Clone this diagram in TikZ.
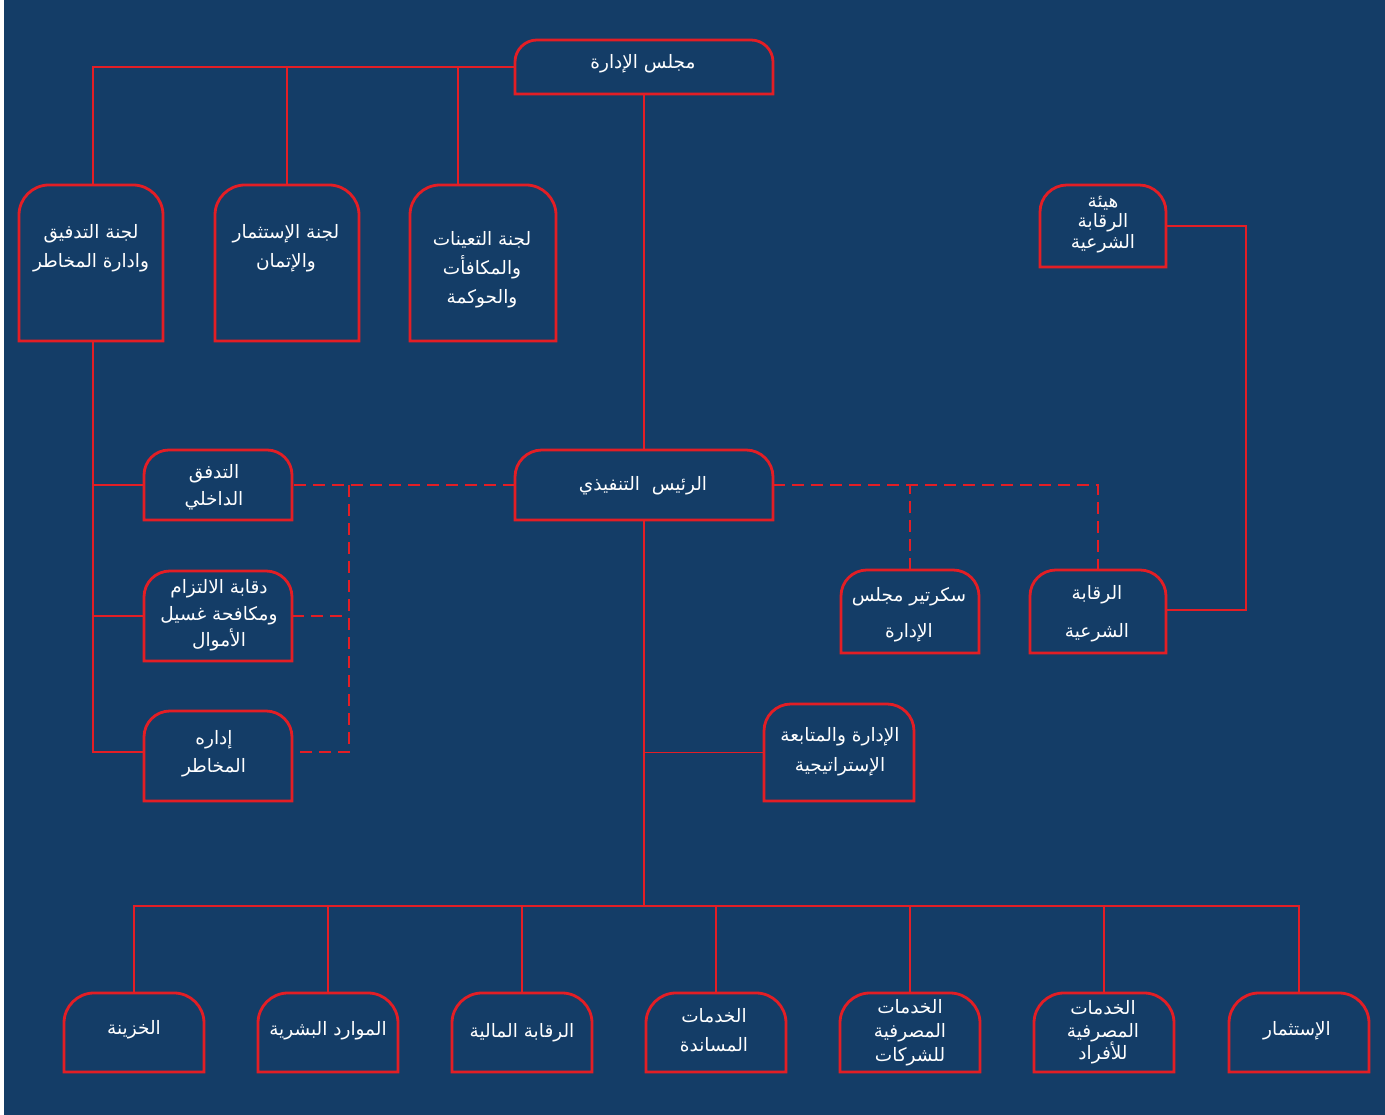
\documentclass[tikz,border=0pt]{standalone}
\usepackage{fontspec}
\TeXXeTstate=1
\newfontfamily\arabicfont[Script=Arabic]{DejaVu Sans}
\newcommand\rl[1]{\beginR #1\endR}
\definecolor{bg}{HTML}{143D67}
\definecolor{rd}{HTML}{E31E25}
\newcommand\topbox[2]{\draw[boxline] (#1.south west) -- ([yshift=-#2]#1.north west) arc[start angle=180,end angle=90,radius=#2] -- ([xshift=-#2]#1.north east) arc[start angle=90,end angle=0,radius=#2] -- (#1.south east) -- cycle;}
\tikzset{
  bx/.style={draw=none, inner sep=0pt, outer sep=0pt, rectangle},
  boxline/.style={draw=rd, line width=2.8pt, fill=bg},
  conn/.style={draw=rd, line width=1.5pt},
  dsh/.style={draw=rd, line width=1.5pt, dash pattern=on 12pt off 7pt},
  txt/.style={text=white, align=center, inner sep=0pt, font=\arabicfont\fontsize{18.5}{#1}\selectfont},
  txt/.default=29
}
\begin{document}
\begin{tikzpicture}[x=1pt,y=1pt]
\useasboundingbox (0,0) rectangle (1385,1115);
\fill[white] (0,0) rectangle (1385,1115);
\fill[bg] (4,0) rectangle (1385,1115);
% box nodes
\node[bx, minimum width=258pt, minimum height=54pt] (board) at (644,1048) {};
\node[bx, minimum width=144pt, minimum height=156pt] (c1) at (91,852) {};
\node[bx, minimum width=144pt, minimum height=156pt] (c2) at (287,852) {};
\node[bx, minimum width=146pt, minimum height=156pt] (c3) at (483,852) {};
\node[bx, minimum width=126pt, minimum height=82pt] (shb) at (1103,889) {};
\node[bx, minimum width=258pt, minimum height=70pt] (ceo) at (644,630) {};
\node[bx, minimum width=148pt, minimum height=70pt] (ia) at (218,630) {};
\node[bx, minimum width=148pt, minimum height=90pt] (aml) at (218,499) {};
\node[bx, minimum width=148pt, minimum height=90pt] (risk) at (218,359) {};
\node[bx, minimum width=138pt, minimum height=83pt] (sec) at (910,503.5) {};
\node[bx, minimum width=136pt, minimum height=83pt] (sh) at (1098,503.5) {};
\node[bx, minimum width=150pt, minimum height=97pt] (strat) at (839,362.5) {};
\foreach \n/\x in {b1/134,b2/328,b3/522,b4/716,b5/910,b6/1104,b7/1299}{
  \node[bx, minimum width=140pt, minimum height=79pt] (\n) at (\x,82.5) {};
}
% connectors
\coordinate (c1top) at ([xshift=2pt]c1.north);
\draw[conn] (board.west) -| (c1top);
\draw[conn] (c2.north) -- (c2.north |- board.west);
\coordinate (c3top) at ([xshift=-25pt]c3.north);
\draw[conn] (c3top) -- (c3top |- board.west);
\draw[conn] (board.south) -- (ceo.north);
\coordinate (c1bot) at ([xshift=2pt]c1.south);
\draw[conn] (c1bot) |- ([yshift=4pt]risk.west);
\draw[conn] (ia.west) -- (ia.west -| c1bot);
\draw[conn] (aml.west) -- (aml.west -| c1bot);
\draw[dsh] (ceo.west) -- (ia.east);
\coordinate (dtop) at (349,630);
\draw[dsh] (dtop) |- ([yshift=4pt]risk.east);
\draw[dsh] (aml.east) -- (aml.east -| dtop);
\draw[dsh] (ceo.east) -| (sh.north);
\draw[dsh] (sec.north) -- (sec.north |- ceo.east);
\coordinate (shr) at (1246,889);
\draw[conn] (shb.east) -- (shr) |- ([yshift=1.5pt]sh.east);
\coordinate (bus) at (644,209);
\draw[conn] (ceo.south) -- (bus);
\draw[conn] (strat.west) -- (strat.west -| ceo.south);
\foreach \n in {b1,b2,b3,b4,b5,b6,b7}{ \draw[conn] (\n.north) |- (bus); }
% box outlines
\topbox{board}{22pt}
\topbox{c1}{30pt}
\topbox{c2}{30pt}
\topbox{c3}{30pt}
\topbox{shb}{27pt}
\topbox{ceo}{27pt}
\topbox{ia}{25pt}
\topbox{aml}{26pt}
\topbox{risk}{26pt}
\topbox{sec}{26pt}
\topbox{sh}{26pt}
\topbox{strat}{27pt}
\foreach \n in {b1,b2,b3,b4,b5,b6,b7}{ \topbox{\n}{30pt} }
% texts
\node[txt] (tboard) at (643,1051) {\rl{مجلس الإدارة}};
\node[txt] (tc1) at (91,866.5) {\rl{لجنة التدفيق}\\\rl{وادارة المخاطر}};
\node[txt] (tc2) at (286,866.5) {\rl{لجنة الإستثمار}\\\rl{والإتمان}};
\node[txt] (tc3) at (482,845) {\rl{لجنة التعينات}\\\rl{والمكافأت}\\\rl{والحوكمة}};
\node[txt=20.5] (tshb) at (1103,890.5) {\rl{هيئة}\\\rl{الرقابة}\\\rl{الشرعية}};
\node[txt] (tceo) at (643,629) {\rl{الرئيس~~التنفيذي}};
\node[txt=27] (tia) at (214,627.5) {\rl{التدفق}\\\rl{الداخلي}};
\node[txt=26.5] (taml) at (219,499.5) {\rl{دقابة الالتزام}\\\rl{ومكافحة غسيل}\\\rl{الأموال}};
\node[txt=28] (trisk) at (214,361) {\rl{إداره}\\\rl{المخاطر}};
\node[txt=36] (tsec) at (909,500) {\rl{سكرتير مجلس}\\\rl{الإدارة}};
\node[txt=38] (tsh) at (1097,501) {\rl{الرقابة}\\\rl{الشرعية}};
\node[txt=30] (tstrat) at (840,363) {\rl{الإدارة والمتابعة}\\\rl{الإستراتيجية}};
\node[txt] (tb1) at (134,85) {\rl{الخزينة}};
\node[txt] (tb2) at (328,84) {\rl{الموارد البشرية}};
\node[txt] (tb3) at (522,82) {\rl{الرقابة المالية}};
\node[txt=29] (tb4) at (714,84.5) {\rl{الخدمات}\\\rl{المساندة}};
\node[txt=24] (tb5) at (910,82) {\rl{الخدمات}\\\rl{المصرفية}\\\rl{للشركات}};
\node[txt=22.5] (tb6) at (1103,82.5) {\rl{الخدمات}\\\rl{المصرفية}\\\rl{للأفراد}};
\node[txt] (tb7) at (1297,84) {\rl{الإستثمار}};
\end{tikzpicture}
\end{document}
